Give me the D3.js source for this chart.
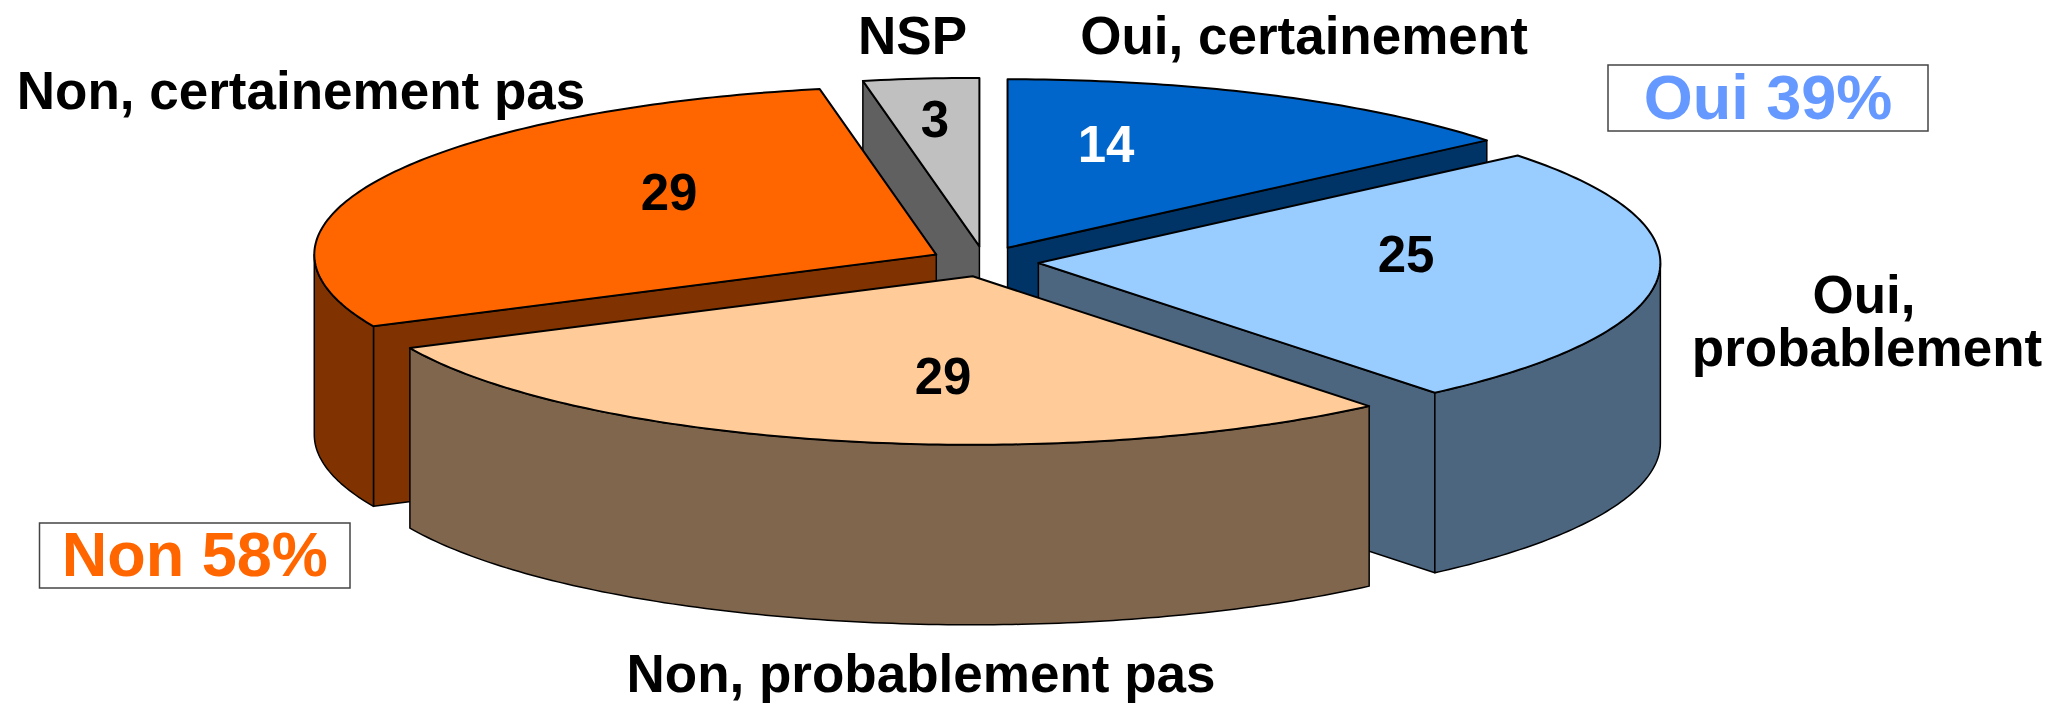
<!DOCTYPE html>
<html>
<head>
<meta charset="utf-8">
<script src="https://cdn.jsdelivr.net/npm/d3@7"></script>
<style>
  body { margin: 0; background: #fff; }
  text { font-family: "Liberation Sans", Arial, sans-serif; font-weight: bold; }
</style>
</head>
<body>
<div id="chart"></div>
<script>
// values, clockwise from 12 o'clock
const categories = ["Oui, certainement", "Oui, probablement", "Non, probablement pas", "Non, certainement pas", "NSP"];
const values = [14, 25, 29, 29, 3];
const topColors = ["#0066CC", "#99CCFF", "#FFCC99", "#FF6600", "#C0C0C0"];
const valueColors = ["#fff", "#000", "#000", "#000", "#000"];

const width = 2047, height = 703;
const cx = 984.5, cy = 261.5, rx = 622, ry = 168.5;
const depth = 180;
const explodeX = 0.087, explodeY = 0.09;

const svg = d3.select("#chart").append("svg")
    .attr("width", width)
    .attr("height", height);

// pie space is a unit circle, squashed to an ellipse by the scales
const xScale = d3.scaleLinear().domain([-1, 1]).range([cx - rx, cx + rx]);
const yScale = d3.scaleLinear().domain([-1, 1]).range([cy - ry, cy + ry]);

const slices = d3.pie().sort(null)(values);

const line = d3.line()
    .x(d => xScale(d[0]))
    .y(d => yScale(d[1]) + (d[2] || 0));

function arcPoints(a0, a1, ox, oy) {
  const n = Math.max(1, Math.ceil((a1 - a0) / 0.015));
  return d3.range(n + 1).map(i => {
    const a = a0 + (a1 - a0) * i / n;
    return [ox + Math.sin(a), oy - Math.cos(a), 0];
  });
}

// top-face points pushed down by depth make the side wall
function wall(pts) {
  const bottom = pts.map(p => [p[0], p[1], depth]).reverse();
  return pts.concat(bottom);
}

function drawFace(pts, fill, strokeWidth) {
  svg.append("path")
    .attr("d", line(pts) + "Z")
    .attr("fill", fill)
    .attr("stroke", "#000")
    .attr("stroke-width", strokeWidth)
    .attr("stroke-linejoin", "round");
}

// back to front
const drawOrder = [4, 0, 3, 1, 2];

drawOrder.forEach(i => {
  const s = slices[i];
  const mid = (s.startAngle + s.endAngle) / 2;
  const ox = explodeX * Math.sin(mid), oy = -explodeY * Math.cos(mid);
  const c = d3.rgb(topColors[i]);
  const side = d3.rgb(c.r / 2, c.g / 2, c.b / 2).formatHex();
  const apex = [ox, oy, 0];

  // cut faces, only when they turn toward the viewer
  if (Math.sin(s.startAngle) < -1e-6) {
    drawFace(wall([apex, arcPoints(s.startAngle, s.startAngle, ox, oy)[0]]), side, 1.5);
  }
  if (Math.sin(s.endAngle) > 1e-6) {
    drawFace(wall([apex, arcPoints(s.endAngle, s.endAngle, ox, oy)[0]]), side, 1.5);
  }

  // only the part of the rim facing the viewer
  const a0 = Math.max(s.startAngle, Math.PI / 2);
  const a1 = Math.min(s.endAngle, Math.PI * 1.5);
  if (a1 > a0) drawFace(wall(arcPoints(a0, a1, ox, oy)), side, 1.5);

  drawFace([apex].concat(arcPoints(s.startAngle, s.endAngle, ox, oy)), topColors[i], 2);
});

// value labels on the slices
const valueX = [1106, 1406, 943, 669, 935];
const valueY = [161.5, 272, 394, 210, 137];
values.forEach((v, i) => {
  svg.append("text")
    .attr("x", valueX[i])
    .attr("y", valueY[i])
    .attr("text-anchor", "middle")
    .attr("font-size", 51)
    .attr("fill", valueColors[i])
    .text(v);
});

// category labels
const labels = [
  { t: categories[4], x: 912.5, y: 54 },
  { t: categories[0], x: 1304, y: 54 },
  { t: categories[3], x: 301, y: 109 },
  { t: "Oui,", x: 1864, y: 313 },
  { t: "probablement", x: 1867, y: 366 },
  { t: categories[2], x: 921, y: 692 }
];
labels.forEach(d => {
  svg.append("text")
    .attr("x", d.x)
    .attr("y", d.y)
    .attr("text-anchor", "middle")
    .attr("font-size", 53)
    .text(d.t);
});

// summary boxes
const boxes = [
  { t: "Oui 39%", x: 1608, y: 65, w: 320, h: 66, color: "#6699FF" },
  { t: "Non 58%", x: 39.5, y: 523, w: 310.5, h: 65, color: "#FF6600" }
];
boxes.forEach(d => {
  svg.append("rect")
    .attr("x", d.x).attr("y", d.y)
    .attr("width", d.w).attr("height", d.h)
    .attr("fill", "#fff")
    .attr("stroke", "#444")
    .attr("stroke-width", 1.5);
  svg.append("text")
    .attr("x", d.x + d.w / 2)
    .attr("y", d.y + d.h / 2 + 20.5)
    .attr("text-anchor", "middle")
    .attr("font-size", 63)
    .attr("fill", d.color)
    .text(d.t);
});
</script>
</body>
</html>
